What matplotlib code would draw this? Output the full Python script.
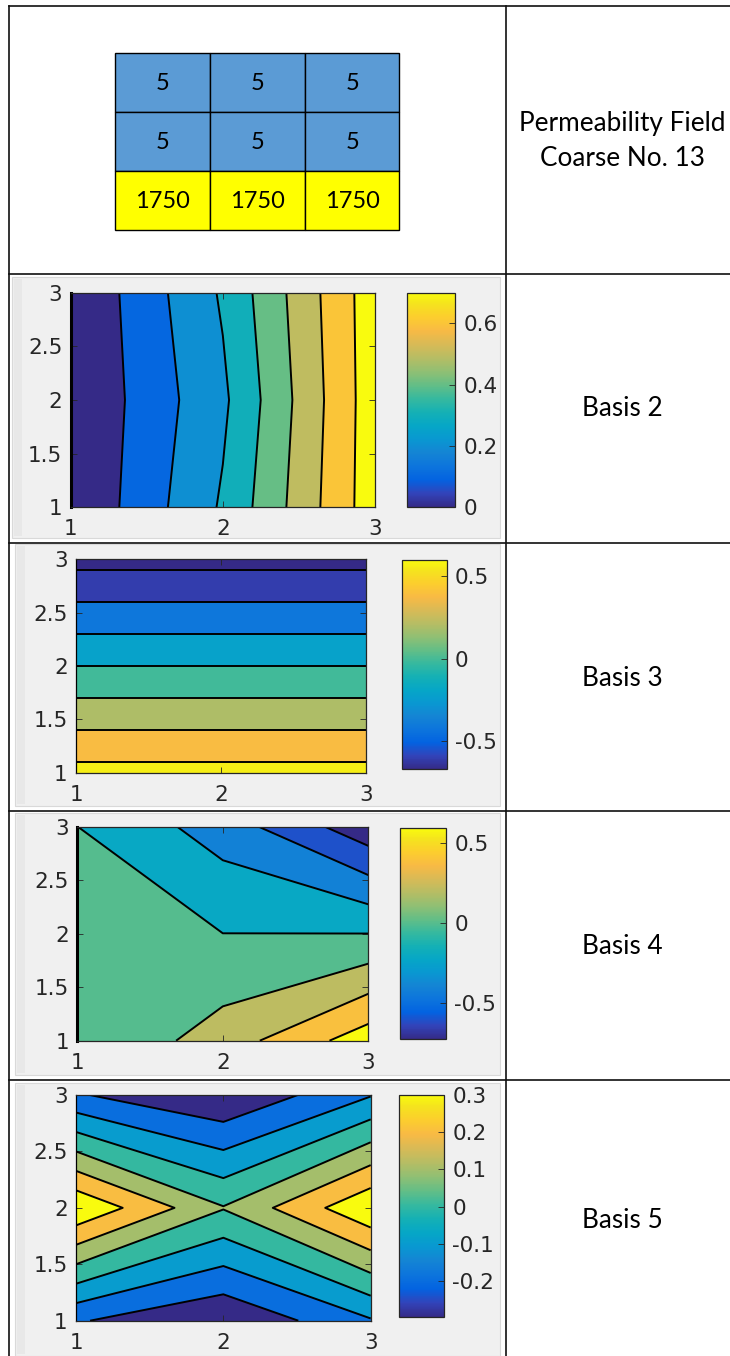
import numpy as np
import matplotlib
matplotlib.use('Agg')
import matplotlib.pyplot as plt
from matplotlib.colors import LinearSegmentedColormap, Normalize
from matplotlib.patches import Rectangle
from matplotlib.cm import ScalarMappable

W, H = 730, 1356

# coarse permeability, top row first
perm = [[5, 5, 5],
        [5, 5, 5],
        [1750, 1750, 1750]]
perm_colors = {5: '#5B9BD5', 1750: '#FFFF00'}
title_lines = ['Permeability Field', 'Coarse No. 13']

# coarse nodes
x_nodes = [1, 2, 3]
y_nodes = [1, 2, 3]

# basis values on the 3x3 nodes, rows are y = 1, 2, 3
basis2 = [[0.0, 0.288, 0.70],
          [0.0, 0.258, 0.70],
          [0.0, 0.288, 0.70]]
basis3 = [[0.60, 0.60, 0.60],
          [-0.035, -0.035, -0.035],
          [-0.67, -0.67, -0.67]]
basis4 = [[-0.06, 0.208, 0.59],
          [-0.06, -0.06, -0.06],
          [-0.06, -0.328, -0.73]]
basis5 = [[-0.206, -0.296, -0.136],
          [0.300, 0.052, 0.297],
          [-0.206, -0.298, -0.133]]

# contour levels
levels2 = [0.092, 0.184, 0.276, 0.368, 0.460, 0.552, 0.644]
levels3 = [-0.6065, -0.416, -0.2255, -0.036, 0.1555, 0.346, 0.5365]
levels4 = [-0.610, -0.427, -0.244, -0.061, 0.122, 0.305, 0.488]
levels5 = [-0.2146, -0.1274, -0.0402, 0.047, 0.1342, 0.2214]

basis_names = ['Basis 2', 'Basis 3', 'Basis 4', 'Basis 5']

x_tick_labels = ['1', '2', '3']
y_tick_labels = ['1', '1.5', '2', '2.5', '3']
cbar_labels2 = ['0', '0.2', '0.4', '0.6']
cbar_labels3 = ['-0.5', '0', '0.5']
cbar_labels4 = ['-0.5', '0', '0.5']
cbar_labels5 = ['-0.2', '-0.1', '0', '0.1', '0.2', '0.3']

# parula (every 4th entry of the 64 colour table)
parula_pts = [(0.2081, 0.1663, 0.5292), (0.1959, 0.2645, 0.7279), (0.0117, 0.3875, 0.8820),
              (0.0498, 0.4586, 0.8641), (0.0793, 0.5200, 0.8312), (0.0343, 0.5966, 0.8199),
              (0.0228, 0.6535, 0.7768), (0.0843, 0.6928, 0.7062), (0.2178, 0.7250, 0.6193),
              (0.3953, 0.7459, 0.5244), (0.5709, 0.7485, 0.4494), (0.7184, 0.7411, 0.3905),
              (0.8507, 0.7299, 0.3360), (0.9739, 0.7314, 0.2666), (0.9880, 0.8066, 0.1794),
              (0.9589, 0.8949, 0.1132), (0.9763, 0.9831, 0.0538)]
pos = [0] + [4 * i / 63 for i in range(1, 16)] + [1]
parula = LinearSegmentedColormap.from_list('parula', list(zip(pos, parula_pts)))


def px_box(l, t, r, b):
    return [l / W, 1 - b / H, (r - l) / W, (b - t) / H]


fig = plt.figure(figsize=(W / 100, H / 100), dpi=100)
fig.patch.set_facecolor('white')

# page layer in pixel units
bg = fig.add_axes([0, 0, 1, 1])
bg.set_xlim(0, W)
bg.set_ylim(H, 0)
bg.axis('off')

# table rules
lc = '#111111'
bg.plot([9, 9], [6, H], color=lc, lw=1.2)
bg.plot([506, 506], [6, H], color=lc, lw=1.2)
for yy in [6, 274, 543, 811, 1080]:
    bg.plot([9, W], [yy, yy], color=lc, lw=1.2)

# right column text
bg.text(622, 123, title_lines[0], ha='center', va='center', fontsize=18.8, family='Lato')
bg.text(622, 158, title_lines[1], ha='center', va='center', fontsize=18.8, family='Lato')

# permeability grid
pax = fig.add_axes(px_box(115.5, 53.3, 399.5, 230))
pax.set_xlim(0, 3)
pax.set_ylim(3, 0)
pax.axis('off')
for r, row in enumerate(perm):
    for c, val in enumerate(row):
        pax.add_patch(Rectangle((c, r), 1, 1, facecolor=perm_colors[val],
                                edgecolor='black', lw=1.0, clip_on=False))
        pax.text(c + 0.5, r + 0.52, str(val), ha='center', va='center',
                 fontsize=17, family='Lato')

panels = [
    dict(z=basis2, lev=levels2, cb=cbar_labels2, tpos=np.linspace(0, 1, 8), edge=2.2,
         bgbox=(12, 277, 500, 538), axbox=(70.7, 292.7, 375, 507.3),
         cbbox=(406.7, 292.7, 455, 507.3), ly=409),
    dict(z=basis3, lev=levels3, cb=cbar_labels3, edge=0.9,
         tpos=[0, 0.05, 0.2, 0.36, 0.52, 0.68, 0.83, 0.97],
         bgbox=(15, 544, 500, 806), axbox=(76, 559.3, 366, 772.7),
         cbbox=(401.7, 560, 446.7, 769.3), ly=678),
    dict(z=basis4, lev=levels4, cb=cbar_labels4, edge=2.2,
         tpos=[0, 0.09, 0.24, 0.39, 0.55, 0.71, 0.84, 1.0],
         bgbox=(15, 813, 500, 1075), axbox=(77.3, 826.7, 368.3, 1040.7),
         cbbox=(400, 828.3, 446, 1039.3), ly=947),
    dict(z=basis5, lev=levels5, cb=cbar_labels5, tpos=np.linspace(0, 1, 7), edge=0.9,
         bgbox=(15, 1083, 500, 1356), axbox=(76, 1095, 370.7, 1320.7),
         cbbox=(399, 1095, 444, 1317.3), ly=1221),
]

tc = '#262626'
for name, p in zip(basis_names, panels):
    l, t, r, b = p['bgbox']
    bg.add_patch(Rectangle((l, t), r - l, b - t, facecolor='#f0f0f0',
                           edgecolor='#d9d9d9', lw=0.8))
    bg.add_patch(Rectangle((l + 2, t + 2), 8, b - t - 4, facecolor='#e8e8e8', lw=0))
    bg.text(622, p['ly'], name, ha='center', va='center', fontsize=18.8, family='Lato')

    Z = np.array(p['z'])
    zmin, zmax = Z.min(), Z.max()
    ax = fig.add_axes(px_box(*p['axbox']))
    ax.contourf(x_nodes, y_nodes, Z, levels=[zmin] + p['lev'] + [zmax],
                colors=[parula(tt) for tt in p['tpos']])
    ax.contour(x_nodes, y_nodes, Z, levels=p['lev'], colors='black',
               linewidths=1.4, linestyles='solid')
    ax.set_xlim(1, 3)
    ax.set_ylim(1, 3)
    ax.set_xticks([float(s) for s in x_tick_labels])
    ax.set_xticklabels(x_tick_labels)
    ax.set_yticks([float(s) for s in y_tick_labels])
    ax.set_yticklabels(y_tick_labels)
    ax.tick_params(direction='in', top=True, right=True, length=4, width=0.6,
                   colors=tc, labelsize=15.5)
    ax.tick_params(axis='x', pad=8.5)
    ax.tick_params(axis='y', pad=6)
    for s in ax.spines.values():
        s.set_color(tc)
        s.set_linewidth(0.9)
    ax.spines['left'].set_color('black')
    ax.spines['left'].set_linewidth(p['edge'])

    cax = fig.add_axes(px_box(*p['cbbox']))
    cb = fig.colorbar(ScalarMappable(norm=Normalize(zmin, zmax), cmap=parula), cax=cax)
    cb.set_ticks([float(s) for s in p['cb']])
    cb.set_ticklabels(p['cb'])
    cax.tick_params(direction='in', length=4, width=0.6, colors=tc, labelsize=15.5, pad=6)
    cb.outline.set_edgecolor(tc)
    cb.outline.set_linewidth(0.9)

fig.savefig('out.png', dpi=100)
